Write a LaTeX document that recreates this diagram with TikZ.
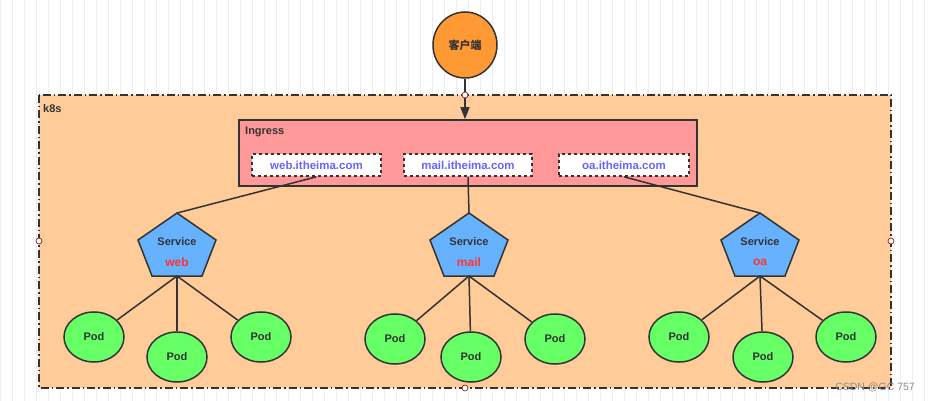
\documentclass[tikz,border=0pt]{standalone}
\usepackage{fontspec}
\setmainfont{Liberation Sans}
\newfontfamily\cjk{Noto Sans CJK SC}
\usetikzlibrary{shapes.geometric,arrows.meta}
\definecolor{k8sfill}{HTML}{FFCC99}
\definecolor{ingfill}{HTML}{FF9999}
\definecolor{svcfill}{HTML}{66B2FF}
\definecolor{podfill}{HTML}{66FF66}
\definecolor{cfill}{HTML}{FF9933}
\definecolor{edge}{HTML}{333333}
\definecolor{url}{HTML}{6666FF}
\definecolor{svcname}{HTML}{FF3333}
\tikzset{
 x=1pt,y=-1pt,
 pod/.style={ellipse,draw=edge,line width=1.5pt,fill=podfill,minimum width=60,minimum height=50,inner sep=0,font=\bfseries\fontsize{11}{12}\selectfont,text=edge},
 urlbox/.style={draw=edge,dashed,line width=1.6pt,fill=white,minimum height=22,inner sep=0,font=\bfseries\fontsize{11.5}{13}\selectfont,text=url},
 link/.style={draw=edge,line width=1.5pt},
 handle/.style={circle,draw=red!50!black,fill=white,inner sep=0,minimum size=6,line width=0.6pt},
 lbl/.style={font=\bfseries\fontsize{11}{12}\selectfont,text=edge,inner sep=0},
 svctext/.style={font=\bfseries\fontsize{11}{12}\selectfont,align=center,inner sep=0}
}
\newcommand{\svcshape}[2]{%
 \draw[fill=svcfill,draw=edge,line width=1.5pt] (#1,213) -- (#1+39,240) -- (#1+25,276) -- (#1-25,276) -- (#1-39,240) -- cycle;
 \coordinate (#2top) at (#1,213);
 \coordinate (#2bot) at (#1,276);
}
\begin{document}
\begin{tikzpicture}
\useasboundingbox (0,0) rectangle (930,401);
\fill[white] (0,0) rectangle (930,401);
\draw[black!7,step=12] (0,0) grid (930,401);
% k8s
\draw[fill=k8sfill,draw=edge,line width=1.6pt,dash pattern=on 8pt off 3pt on 1.5pt off 3pt] (39,95) rectangle (891,388);
\node[anchor=west,lbl] (k8s) at (43,109) {k8s};
% client
\node[ellipse,draw=edge,line width=1.5pt,fill=cfill,minimum width=64,minimum height=66,inner sep=0,font=\cjk\bfseries\fontsize{11}{12}\selectfont,text=edge] (client) at (465,45) {客户端};
% ingress
\node[draw=edge,line width=1.6pt,fill=ingfill,minimum width=458,minimum height=66,inner sep=0] (ing) at (468,153) {};
\node[anchor=west,lbl] (inglbl) at (245,132) {Ingress};
\draw[link,-{Triangle[length=12pt,width=9pt]}] (client.south) -- (ing.north -| client.south);
\node[urlbox,minimum width=129] (uweb) at (316.5,165) {web.itheima.com};
\node[urlbox,minimum width=128] (umail) at (468,165) {mail.itheima.com};
\node[urlbox,minimum width=130] (uoa) at (624,165) {oa.itheima.com};
% services
\svcshape{177}{web}
\svcshape{469}{mail}
\svcshape{760}{oa}
\node[svctext,text=edge] (sw) at (177,242) {Service};
\node[svctext,text=svcname,font=\bfseries\fontsize{12}{13}\selectfont] (swn) at (177,262) {web};
\node[svctext,text=edge] (sm) at (469,242) {Service};
\node[svctext,text=svcname,font=\bfseries\fontsize{12}{13}\selectfont] (smn) at (469,262) {mail};
\node[svctext,text=edge] (so) at (760,242) {Service};
\node[svctext,text=svcname,font=\bfseries\fontsize{12}{13}\selectfont] (son) at (760,262) {oa};
\draw[link] (uweb.south) -- (webtop);
\draw[link] (umail.south) -- (mailtop);
\draw[link] (uoa.south) -- (oatop);
% pods
\node[pod] (p1) at (94,337) {Pod};
\node[pod] (p2) at (177,357) {Pod};
\node[pod] (p3) at (261,337) {Pod};
\node[pod] (p4) at (395,339) {Pod};
\node[pod] (p5) at (471,357) {Pod};
\node[pod] (p6) at (555,339) {Pod};
\node[pod] (p7) at (679,337) {Pod};
\node[pod] (p8) at (763,357) {Pod};
\node[pod] (p9) at (846,337) {Pod};
\foreach \s/\a/\b/\c in {web/p1/p2/p3,mail/p4/p5/p6,oa/p7/p8/p9}{
 \draw[link] (\s bot) -- (\a);
 \draw[link] (\s bot) -- (\b);
 \draw[link] (\s bot) -- (\c);
}
% handles
\node[handle] (h1) at (465,95) {};
\node[handle] (h2) at (39,241) {};
\node[handle] (h3) at (891,241) {};
\node[handle] (h4) at (465,388) {};
\node[anchor=east,font=\fontsize{10.5}{12}\selectfont,text=black!45,inner sep=0] (wm) at (915,387) {CSDN @GC 757};
\end{tikzpicture}
\end{document}
